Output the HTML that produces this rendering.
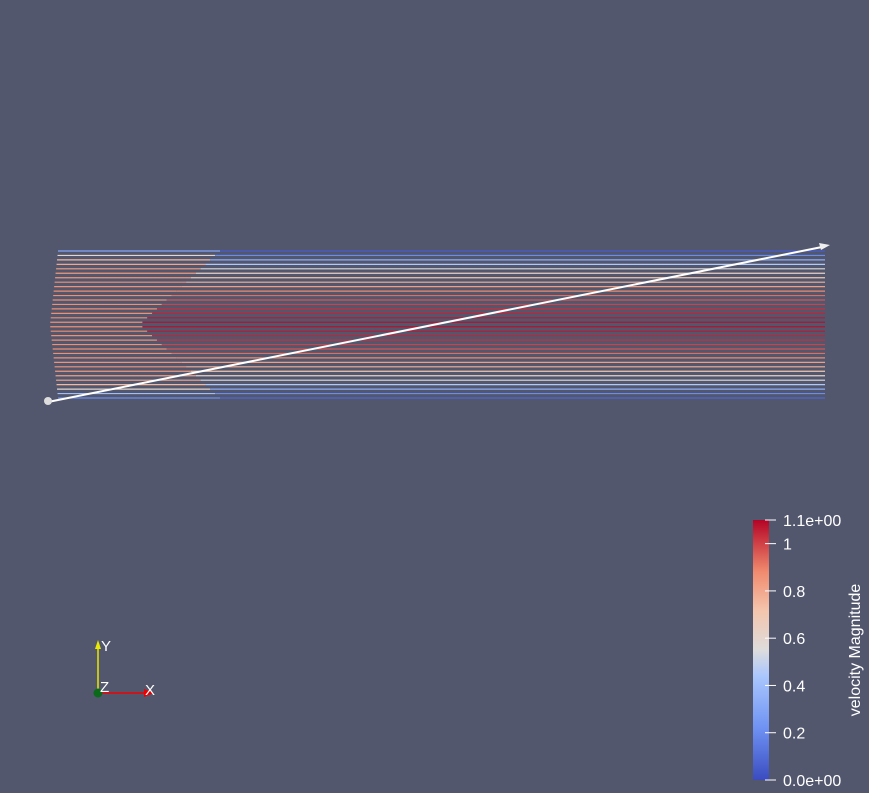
<!DOCTYPE html>
<html><head><meta charset="utf-8"><style>
html,body{margin:0;padding:0;background:#52576e;width:869px;height:793px;overflow:hidden}
svg{display:block;font-family:"Liberation Sans",sans-serif}
</style></head><body>
<svg id="s" width="869" height="793" viewBox="0 0 869 793">
<defs>
<linearGradient id="cb" x1="0" y1="1" x2="0" y2="0">
<stop offset="0" stop-color="#3b4cc0"/><stop offset="0.2" stop-color="#6f92f3"/><stop offset="0.4" stop-color="#aac7fd"/>
<stop offset="0.5" stop-color="#dddcdc"/><stop offset="0.65" stop-color="#f4c5ad"/><stop offset="0.8" stop-color="#f08b6e"/><stop offset="1" stop-color="#b40426"/>
</linearGradient>
</defs>
<g id="lines"></g>
<g>
<line x1="48" y1="402" x2="822" y2="247" stroke="#fff" stroke-width="2"/>
<polygon points="830,245 819,243 821,250" fill="#eee"/>
<circle cx="48" cy="401" r="4" fill="#ddd"/>
</g>
<g>
<rect x="753" y="520" width="16" height="260" fill="url(#cb)"/>
<g id="ticks" fill="#fff" font-size="16"></g>
<text transform="translate(860,650) rotate(-90)" text-anchor="middle" fill="#fff" font-size="16">velocity Magnitude</text>
</g>
<g>
<line x1="98" y1="693" x2="98" y2="646" stroke="#e8e800" stroke-width="1.5"/>
<polygon points="98,640 95,649 101,649" fill="#e8e800"/>
<line x1="98" y1="693" x2="146" y2="693" stroke="#e00" stroke-width="1.5"/>
<polygon points="154,693 144,689 144,697" fill="#e00"/>
<circle cx="98" cy="693" r="4.5" fill="#0a6a1a"/>
<text x="101" y="651" fill="#fff" font-size="15">Y</text>
<text x="100" y="692" fill="#fff" font-size="15">Z</text>
<text x="145" y="695" fill="#fff" font-size="15">X</text>
</g>
</svg>
<script>
// velocity magnitude of each streamline (top to bottom), fully developed
const lineVelocities=[0.05,0.2,0.33,0.45,0.55,0.63,0.7,0.77,0.83,0.88,0.93,0.97,1.0,1.03,1.05,1.07,1.08,1.08,1.07,1.05,1.03,1.0,0.97,0.93,0.88,0.83,0.77,0.7,0.63,0.55,0.45,0.33,0.2,0.08];
// entrance-region velocity (left part)
const entryVelocities=[0.3,0.6,0.75,0.8,0.82,0.84,0.85,0.86,0.86,0.87,0.87,0.87,0.87,0.87,0.87,0.87,0.87,0.87,0.87,0.87,0.87,0.87,0.87,0.87,0.86,0.86,0.85,0.84,0.82,0.8,0.75,0.6,0.4,0.2];
const tickValues=[0,0.2,0.4,0.6,0.8,1,1.1];
const tickLabels=["0.0e+00","0.2","0.4","0.6","0.8","1","1.1e+00"];
const vmax=1.1;
const stops=[[0,[59,76,192]],[0.2,[111,146,243]],[0.4,[170,199,253]],[0.5,[221,220,220]],[0.65,[244,197,173]],[0.8,[240,139,110]],[1,[180,4,38]]];
function cmap(v){const t=Math.max(0,Math.min(1,v/vmax));for(let i=1;i<stops.length;i++){if(t<=stops[i][0]){const a=stops[i-1],b=stops[i],f=(t-a[0])/(b[0]-a[0]);return 'rgb('+a[1].map((c,k)=>Math.round(c+(b[1][k]-c)*f)).join(',')+')';}}return 'rgb(180,4,38)';}
const y0=251,y1=398,xs=50,xe=825;
const yPos=i=>y0+(y1-y0)*i/(lineVelocities.length-1);
const yBar=v=>780-260*v/vmax;
const ns='http://www.w3.org/2000/svg';
const g=document.getElementById('lines');
lineVelocities.forEach((v,i)=>{
  const y=yPos(i);
  const edge=Math.abs(i-(lineVelocities.length-1)/2)/((lineVelocities.length-1)/2);
  const split=140+edge*80;
  const a=document.createElementNS(ns,'line');
  
  
  a.setAttribute('x1',xs+edge*8);a.setAttribute('x2',split);a.setAttribute('y1',y);a.setAttribute('y2',y);
  a.setAttribute('stroke',cmap(entryVelocities[i]));a.setAttribute('stroke-width','1.2');g.appendChild(a);
  const b=document.createElementNS(ns,'line');
  
  
  b.setAttribute('x1',split);b.setAttribute('x2',xe);b.setAttribute('y1',y);b.setAttribute('y2',y);
  b.setAttribute('stroke',cmap(v));b.setAttribute('stroke-width','1.2');g.appendChild(b);
});
const tg=document.getElementById('ticks');
tickValues.forEach((v,i)=>{
  const y=yBar(v);
  const l=document.createElementNS(ns,'line');
  
  
  l.setAttribute('x1',765);l.setAttribute('x2',776);l.setAttribute('y1',y);l.setAttribute('y2',y);l.setAttribute('stroke','#fff');tg.appendChild(l);
  const t=document.createElementNS(ns,'text');
  
  
  t.setAttribute('x',783);t.setAttribute('y',y+6);t.textContent=tickLabels[i];tg.appendChild(t);
});
</script>
</body></html>
